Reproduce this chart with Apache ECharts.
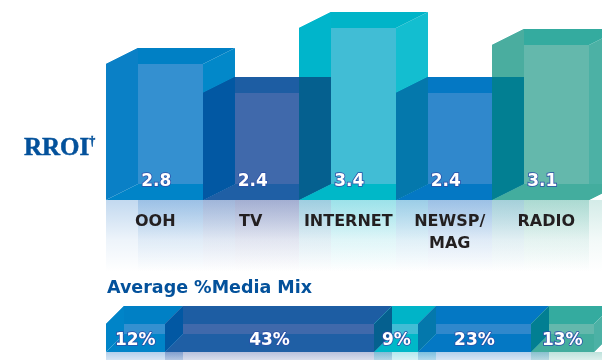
<!DOCTYPE html>
<html>
<head>
<meta charset="utf-8">
<style>html,body{margin:0;padding:0;background:#fff}#chart{width:602px;height:360px}</style>
<script src="https://cdn.jsdelivr.net/npm/echarts@6/dist/echarts.min.js"></script>
</head>
<body>
<div id="chart"></div>
<script>
// Return on investment by medium, and each medium's share of the average media mix
const media = ['OOH', 'TV', 'INTERNET', 'NEWSP/\nMAG', 'RADIO'];
const rroi = [2.8, 2.4, 3.4, 2.4, 3.1];
const mixShare = [12, 43, 9, 23, 13];

// Face colours of each open box
const wallColor  = ['#0a80c6', '#0258a3', '#00b5cb', '#0478ac', '#4aad9f'];
const sideColor  = ['#0288c9', '#1d5da3', '#13bed0', '#0478c4', '#4cb1a5'];
const topColor   = ['#0080c5', '#1d5da3', '#00b4c8', '#0478c4', '#34ab9f'];
const backColor  = ['#3490d0', '#4069ab', '#41bdd5', '#3088cc', '#64b8ac'];
const floorColor = ['#0084c8', '#1f5fa5', '#00b8c8', '#0478c4', '#43ad9e'];
const jointColor = [null, '#0258a3', '#05608f', '#0478ac', '#027f92'];
const tintColor  = ['0,96,190', '20,50,140', '0,180,200', '0,96,190', '40,160,140'];
const labelNudge = [[0, 2], [1, 0], [2, 2], [3, 12], [4, 12]];

const AXIS_FLOOR = 1.36;
const DEPTH_X = 32, DEPTH_Y = 16;
const STRIP_DEPTH = 18;

const poly = (points, fill) => ({ type: 'polygon', shape: { points }, style: { fill } });
const fade = (rgb, a, from, to) => ({
  type: 'linear', x: 0, y: from, x2: 0, y2: to, global: true,
  colorStops: [
    { offset: 0, color: `rgba(${rgb},${a})` },
    { offset: 0.55, color: `rgba(${rgb},${a * 0.3})` },
    { offset: 1, color: `rgba(${rgb},0)` }
  ]
});
const outlined = (text, x, y) => ({
  type: 'text', z2: 20,
  style: {
    text, x, y, align: 'center', verticalAlign: 'middle',
    font: 'bold 17px "DejaVu Sans"', fill: '#fff', stroke: '#2c50a8', lineWidth: 1.6
  }
});

function boxTopAt(api, i) {
  return Math.round(api.coord([i, rroi[i]])[1]);
}

function renderBox(params, api) {
  const i = params.dataIndex;
  const band = api.size([1, 0])[0];
  const [cx, rawTop] = api.coord([i, api.value(1)]);
  const top = Math.round(rawTop);
  const base = Math.round(api.coord([i, AXIS_FLOOR])[1]);
  const x = Math.round(cx - band / 2), r = Math.round(cx + band / 2);
  const w = r - x;
  const bx = x + DEPTH_X, rx = r + DEPTH_X, by = top - DEPTH_Y, fb = base - DEPTH_Y;
  const kids = [
    { type: 'rect', shape: { x, y: base, width: w, height: 72 }, style: { fill: fade(tintColor[i], 0.24, base, base + 72) } },
    { type: 'rect', shape: { x: bx, y: base, width: w, height: 72 }, style: { fill: fade(tintColor[i], 0.2, base, base + 72) } },
    poly([[r, top], [rx, by], [rx, fb], [r, base]], sideColor[i]),
    poly([[x, top], [bx, by], [rx, by], [r, top]], topColor[i]),
    { type: 'rect', shape: { x: bx, y: top, width: w - DEPTH_X, height: fb - top }, style: { fill: backColor[i] } },
    poly([[x, top], [bx, by], [bx, fb], [x, base]], wallColor[i]),
    poly([[x, base], [bx, fb], [rx, fb], [r, base]], floorColor[i])
  ];
  if (i > 0) {
    const prevTop = boxTopAt(api, i - 1);
    const joint = prevTop > top
      ? [[x, prevTop - DEPTH_Y], [bx, prevTop - DEPTH_Y], [bx, fb], [x, base]]
      : [[x, top], [bx, by], [bx, fb], [x, base]];
    kids.push(poly(joint, jointColor[i]));
  }
  return { type: 'group', children: kids };
}

function renderValue(params, api) {
  const i = params.dataIndex;
  const [cx] = api.coord([i, api.value(1)]);
  const base = api.coord([i, AXIS_FLOOR])[1];
  return outlined(String(api.value(1)), cx + 2, base - 17.5);
}

const mixStart = mixShare.map((_, i) => mixShare.slice(0, i).reduce((a, b) => a + b, 0));

function renderStrip(params, api) {
  const i = params.dataIndex;
  const d = STRIP_DEPTH;
  const [ax, rawBottom] = api.coord([api.value(0), 0]);
  const [bx, rawTop] = api.coord([api.value(0) + api.value(1), 1]);
  const x0 = Math.round(ax), x1 = Math.round(bx), top = Math.round(rawTop), bottom = Math.round(rawBottom);
  const by = top - d, fb = bottom - d;
  const kids = [
    { type: 'rect', shape: { x: x0, y: bottom, width: x1 - x0 + d, height: 10 }, style: { fill: fade(tintColor[i], 0.3, bottom, bottom + 22) } },
    poly([[x0, top], [x0 + d, by], [x1 + d, by], [x1, top]], topColor[i]),
    { type: 'rect', shape: { x: x0 + d, y: top, width: x1 - x0, height: fb - top }, style: { fill: backColor[i] } },
    poly([[x0, bottom], [x0 + d, fb], [x1 + d, fb], [x1, bottom]], floorColor[i]),
    poly([[x0, top], [x0 + d, by], [x0 + d, fb], [x0, bottom]], i === 0 ? floorColor[0] : jointColor[i])
  ];
  if (i === mixShare.length - 1) {
    kids.push(poly([[x1, top], [x1 + d, by], [x1 + d, fb], [x1, bottom]], sideColor[i]));
  }
  return { type: 'group', children: kids };
}

function renderStripLabel(params, api) {
  const [x0] = api.coord([api.value(0), 0]);
  const [x1] = api.coord([api.value(0) + api.value(1), 0]);
  const y = api.coord([0, 0])[1] - 11.5;
  return outlined(api.value(1) + '%', (x0 + x1) / 2, y);
}

const chart = echarts.init(document.getElementById('chart'), null, { renderer: 'canvas' });
chart.setOption({
  animation: false,
  backgroundColor: '#fff',
  title: [
    {
      text: 'RROI{sup|†}', left: 24, top: 136, padding: 0,
      textStyle: {
        fontFamily: 'Liberation Serif', fontWeight: 'bold', fontSize: 25, color: '#03519b',
        textBorderColor: '#03519b', textBorderWidth: 0.5,
        rich: { sup: { fontFamily: 'Liberation Serif', fontWeight: 'bold', fontSize: 12, color: '#03519b', verticalAlign: 'top', padding: [0, 0, 8, 0] } }
      }
    },
    {
      text: 'Average %Media Mix', left: 107, top: 279, padding: 0,
      textStyle: { fontFamily: 'DejaVu Sans', fontWeight: 'bold', fontSize: 17.5, color: '#03519b' }
    }
  ],
  grid: [
    { left: 106, width: 482.5, top: 17, bottom: 160.5 },
    { left: 106, width: 488, top: 324, height: 27.7 }
  ],
  xAxis: [
    {
      type: 'category', gridIndex: 0, z: 10,
      data: labelNudge.map(([i, pad]) => ({ value: media[i], textStyle: { padding: [0, 0, 0, pad] } })),
      axisLine: { show: false }, axisTick: { show: false },
      axisLabel: {
        interval: 0, margin: 11, lineHeight: 22, color: '#231f20',
        fontFamily: 'DejaVu Sans', fontWeight: 'bold', fontSize: 16
      }
    },
    { type: 'value', gridIndex: 1, min: 0, max: 100, show: false }
  ],
  yAxis: [
    { type: 'log', gridIndex: 0, logBase: Math.E, min: AXIS_FLOOR, max: 3.6, show: false },
    { type: 'value', gridIndex: 1, min: 0, max: 1, show: false }
  ],
  series: [
    {
      type: 'custom', xAxisIndex: 0, yAxisIndex: 0, renderItem: renderBox, clip: false, z: 2,
      data: rroi.map((v, i) => [i, v])
    },
    {
      type: 'custom', xAxisIndex: 0, yAxisIndex: 0, renderItem: renderValue, clip: false, z: 5,
      data: rroi.map((v, i) => [i, v])
    },
    {
      type: 'custom', xAxisIndex: 1, yAxisIndex: 1, renderItem: renderStrip, clip: false, z: 2,
      data: mixShare.map((v, i) => [mixStart[i], v])
    },
    {
      type: 'custom', xAxisIndex: 1, yAxisIndex: 1, renderItem: renderStripLabel, clip: false, z: 5,
      data: mixShare.map((v, i) => [mixStart[i], v])
    }
  ]
});
</script>
</body>
</html>
